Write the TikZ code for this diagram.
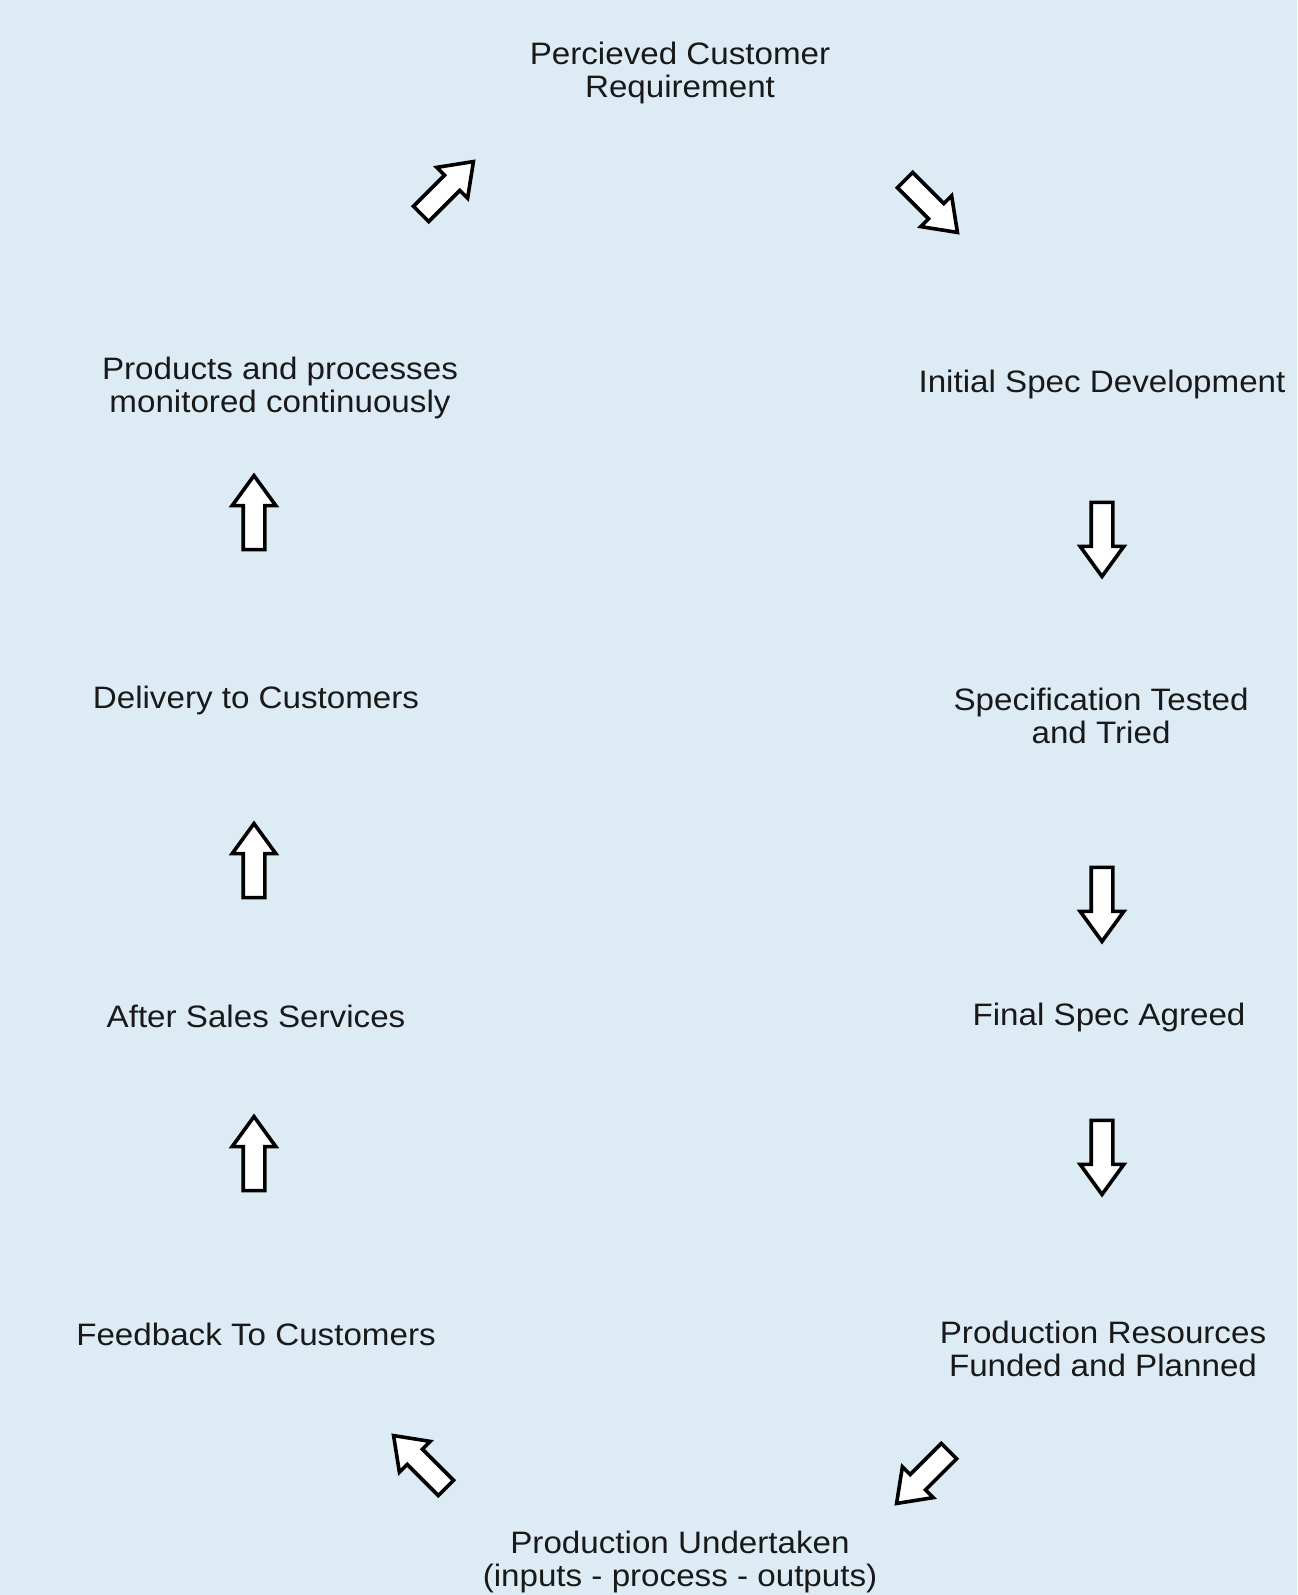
\documentclass[tikz,border=0pt]{standalone}
\usepackage{fontspec}
\setmainfont{Liberation Sans}[FakeStretch=1.07]
\usetikzlibrary{shapes.arrows}
\definecolor{bgblue}{RGB}{221,235,245}
\definecolor{txt}{RGB}{25,25,25}
\tikzset{
  lbl/.style={align=center, text=txt, font=\fontsize{15.5}{16.5}\selectfont, inner sep=0pt},
  blockarrow/.style={single arrow, draw=black, fill=white, line width=1.8pt,
    inner sep=0pt, text height=9pt, text depth=0pt, text width=0pt,
    minimum height=37pt, single arrow head extend=5.5pt,
    single arrow tip angle=72, single arrow head indent=0pt}
}
\begin{document}
\begin{tikzpicture}[x=0.5pt,y=-0.5pt]
\fill[bgblue] (0,0) rectangle (1297,1595);
\useasboundingbox (0,0) rectangle (1297,1595);

\node[lbl] (pcr) at (680,73) {Percieved Customer\\Requirement};
\node[lbl] (isd) at (1102,384) {Initial Spec Development};
\node[lbl] (stt) at (1101,716) {Specification Tested\\and Tried};
\node[lbl] (fsa) at (1109,1017) {Final Spec Agreed};
\node[lbl] (prf) at (1103,1349) {Production Resources\\Funded and Planned};
\node[lbl] (pu)  at (680,1562) {Production Undertaken\\(inputs - process - outputs)};
\node[lbl] (ftc) at (256,1334) {Feedback To Customers};
\node[lbl] (ass) at (256,1016) {After Sales Services};
\node[lbl] (dtc) at (256,700) {Delivery to Customers};
\node[lbl] (ppm) at (280,388) {Products and processes\\monitored continuously};

\node[blockarrow, rotate=45]   (a1) at (442,193) {};
\node[blockarrow, rotate=-45]  (a2) at (926,201) {};
\node[blockarrow, rotate=-90]  (a3) at (1102,532) {};
\node[blockarrow, rotate=-90]  (a4) at (1102,897) {};
\node[blockarrow, rotate=-90]  (a5) at (1102,1150) {};
\node[blockarrow, rotate=-135] (a6) at (928,1472) {};
\node[blockarrow, rotate=135]  (a7) at (425,1467) {};
\node[blockarrow, rotate=90]   (a8) at (254,1161) {};
\node[blockarrow, rotate=90]   (a9) at (254,868) {};
\node[blockarrow, rotate=90]   (a10) at (254,520) {};
\end{tikzpicture}
\end{document}
